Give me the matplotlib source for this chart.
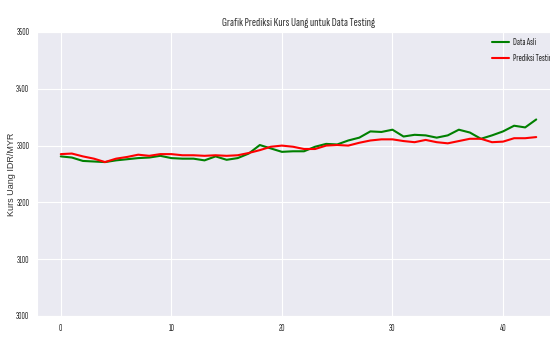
import matplotlib
matplotlib.use("Agg")
import matplotlib.pyplot as plt
import seaborn as sns

sns.set_style("darkgrid")
NARROW = ['Sofia Sans Extra Condensed', 'Roboto Condensed', 'DejaVu Sans']
plt.rcParams['font.family'] = NARROW

data_asli = [3281, 3279, 3273, 3272, 3271, 3274, 3276, 3278, 3279, 3282,
             3278, 3277, 3277, 3274, 3281, 3275, 3278, 3286, 3301, 3295,
             3289, 3290, 3290, 3298, 3303, 3302, 3309, 3314, 3325, 3324,
             3328, 3316, 3319, 3318, 3314, 3318, 3328, 3323, 3312, 3318,
             3325, 3335, 3332, 3346]
prediksi = [3285, 3286, 3281, 3277, 3271, 3277, 3280, 3284, 3282, 3285,
            3285, 3283, 3283, 3282, 3283, 3282, 3283, 3287, 3292, 3298,
            3300, 3298, 3294, 3294, 3300, 3301, 3300, 3305, 3309, 3311,
            3311, 3308, 3306, 3310, 3306, 3304, 3308, 3312, 3312, 3306,
            3307, 3313, 3313, 3315]
idx = list(range(len(data_asli)))

fig = plt.figure(figsize=(5.5, 3.38), dpi=100)
ax = fig.add_axes([37/550, 22/338, (560-37)/550, (316-32)/338])
ax.plot(idx, data_asli, color='green', linewidth=1.5, label='Data Asli')
ax.plot(idx, prediksi, color='red', linewidth=1.5, label='Prediksi Testing')
ax.set_ylim(3000, 3500)
ax.set_yticks([3000, 3100, 3200, 3300, 3400, 3500])
ax.set_xticks([0, 10, 20, 30, 40])
ax.tick_params(labelsize=6.8, colors='#333333', pad=2)
ax.set_title('Grafik Prediksi Kurs Uang untuk Data Testing', fontsize=9, color='#333333', pad=4)
ax.set_xlabel('Data ke', fontsize=7, color='#333333', labelpad=5)
ax.set_ylabel('Kurs Uang IDR/MYR', fontsize=6.5, color='#333333',
              family=['Liberation Sans', 'DejaVu Sans'])
ax.yaxis.set_label_coords(-0.041, 0.5)
leg = ax.legend(loc='upper left', bbox_to_anchor=(0.870, 0.978), fontsize=7,
                frameon=False, borderaxespad=0, borderpad=0,
                handlelength=1.7, handletextpad=0.5, labelspacing=0.7)
fig.savefig('out.png', dpi=100)
